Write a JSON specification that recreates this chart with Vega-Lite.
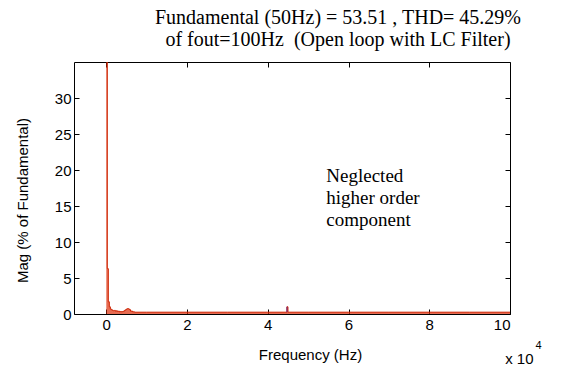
{
  "$schema": "https://vega.github.io/schema/vega-lite/v6.json",
  "autosize": "none",
  "width": 436,
  "height": 252,
  "padding": {"left": 74, "top": 62, "right": 55, "bottom": 55},
  "background": "white",
  "config": {
    "view": {"stroke": "black", "strokeWidth": 1},
    "axis": {"labelFont": "Liberation Sans", "titleFont": "Liberation Sans", "labelFontSize": 15, "titleFontSize": 15, "titleFontWeight": "normal", "labelColor": "black", "titleColor": "black", "domain": false, "grid": false}
  },
  "title": {
    "text": ["Fundamental (50Hz) = 53.51 , THD= 45.29%", "of fout=100Hz\u00a0\u00a0(Open loop with LC Filter)"],
    "font": "Liberation Serif",
    "fontSize": 20,
    "fontWeight": "normal",
    "color": "black",
    "anchor": "middle",
    "dx": 46,
    "offset": 12,
    "lineHeight": 22
  },
  "datasets": {
    "spectrum": [
      {"freq": 0, "mag": 100},
      {"freq": 250, "mag": 6.3},
      {"freq": 500, "mag": 1.7},
      {"freq": 750, "mag": 1.0},
      {"freq": 1000, "mag": 0.7},
      {"freq": 1250, "mag": 0.6},
      {"freq": 1500, "mag": 0.5},
      {"freq": 1750, "mag": 0.45},
      {"freq": 2000, "mag": 0.5},
      {"freq": 2250, "mag": 0.4},
      {"freq": 2500, "mag": 0.45},
      {"freq": 2750, "mag": 0.35},
      {"freq": 3000, "mag": 0.4},
      {"freq": 3250, "mag": 0.3},
      {"freq": 3500, "mag": 0.35},
      {"freq": 3750, "mag": 0.3},
      {"freq": 4000, "mag": 0.35},
      {"freq": 4250, "mag": 0.4},
      {"freq": 4500, "mag": 0.5},
      {"freq": 4750, "mag": 0.6},
      {"freq": 5000, "mag": 0.7},
      {"freq": 5250, "mag": 0.75},
      {"freq": 5500, "mag": 0.7},
      {"freq": 5750, "mag": 0.6},
      {"freq": 6000, "mag": 0.4},
      {"freq": 6500, "mag": 0.3},
      {"freq": 7000, "mag": 0.25},
      {"freq": 10000, "mag": 0.25},
      {"freq": 20000, "mag": 0.25},
      {"freq": 30000, "mag": 0.25},
      {"freq": 40000, "mag": 0.25},
      {"freq": 44750, "mag": 1.0},
      {"freq": 45000, "mag": 0.25},
      {"freq": 50000, "mag": 0.25},
      {"freq": 60000, "mag": 0.25},
      {"freq": 70000, "mag": 0.25},
      {"freq": 80000, "mag": 0.25},
      {"freq": 90000, "mag": 0.25},
      {"freq": 100000, "mag": 0.25}
    ],
    "notes": [
      {"freq": 54500, "mag": 19.1, "kind": "note", "label": ["Neglected", "higher order", "component"]},
      {"freq": 98800, "mag": -6.2, "kind": "exp", "label": ["x 10"]},
      {"freq": 106300, "mag": -4.5, "kind": "sup", "label": ["4"]}
    ]
  },
  "layer": [
    {
      "data": {"name": "spectrum"},
      "mark": {"type": "area", "interpolate": "step-after", "color": "#dd2e08", "clip": true, "line": {"color": "#cc2200", "strokeWidth": 1}},
      "encoding": {
        "x": {"field": "freq", "type": "quantitative", "scale": {"domain": [-8000, 100000], "nice": false, "zero": false},
          "axis": {"values": [0, 20000, 40000, 60000, 80000, 100000], "labelExpr": "datum.value / 10000", "tickSize": -5, "tickColor": "black", "labelPadding": 8, "title": "Frequency (Hz)", "titleX": 236, "titleY": 40, "titleBaseline": "middle"}},
        "y": {"field": "mag", "type": "quantitative", "scale": {"domain": [0, 35], "nice": false},
          "axis": {"values": [0, 5, 10, 15, 20, 25, 30], "tickSize": -5, "tickColor": "black", "labelPadding": 8, "title": "Mag (% of Fundamental)", "titleX": -52, "titleY": 138, "titleBaseline": "middle"}}
      }
    },
    {
      "data": {"name": "spectrum"},
      "mark": {"type": "rule", "opacity": 0, "clip": true},
      "encoding": {
        "x": {"field": "freq", "type": "quantitative", "axis": {"orient": "top", "values": [0, 20000, 40000, 60000, 80000, 100000], "labels": false, "tickSize": -5, "tickColor": "black", "title": null}},
        "y": {"field": "mag", "type": "quantitative", "axis": {"orient": "right", "values": [0, 5, 10, 15, 20, 25, 30], "labels": false, "tickSize": -5, "tickColor": "black", "title": null}}
      }
    },
    {
      "data": {"name": "spectrum"},
      "transform": [{"filter": "datum.freq == 44750"}],
      "mark": {"type": "rule", "color": "#6a2c8c", "strokeWidth": 1},
      "encoding": {
        "x": {"field": "freq", "type": "quantitative", "axis": null},
        "y": {"field": "mag", "type": "quantitative", "axis": null},
        "y2": {"datum": 0.25}
      }
    },
    {
      "data": {"name": "notes"},
      "transform": [{"filter": "datum.kind == 'note'"}],
      "mark": {"type": "text", "align": "left", "baseline": "middle", "font": "Liberation Serif", "fontSize": 19, "lineHeight": 22, "color": "black"},
      "encoding": {
        "x": {"field": "freq", "type": "quantitative", "axis": null},
        "y": {"field": "mag", "type": "quantitative", "axis": null},
        "text": {"field": "label"}
      }
    },
    {
      "data": {"name": "notes"},
      "transform": [{"filter": "datum.kind == 'exp'"}],
      "mark": {"type": "text", "align": "left", "baseline": "middle", "font": "Liberation Sans", "fontSize": 15, "color": "black", "clip": false},
      "encoding": {
        "x": {"field": "freq", "type": "quantitative", "axis": null},
        "y": {"field": "mag", "type": "quantitative", "axis": null},
        "text": {"field": "label"}
      }
    },
    {
      "data": {"name": "notes"},
      "transform": [{"filter": "datum.kind == 'sup'"}],
      "mark": {"type": "text", "align": "left", "baseline": "middle", "font": "Liberation Sans", "fontSize": 11, "color": "black", "clip": false},
      "encoding": {
        "x": {"field": "freq", "type": "quantitative", "axis": null},
        "y": {"field": "mag", "type": "quantitative", "axis": null},
        "text": {"field": "label"}
      }
    }
  ],
  "resolve": {"axis": {"x": "independent", "y": "independent"}}
}
